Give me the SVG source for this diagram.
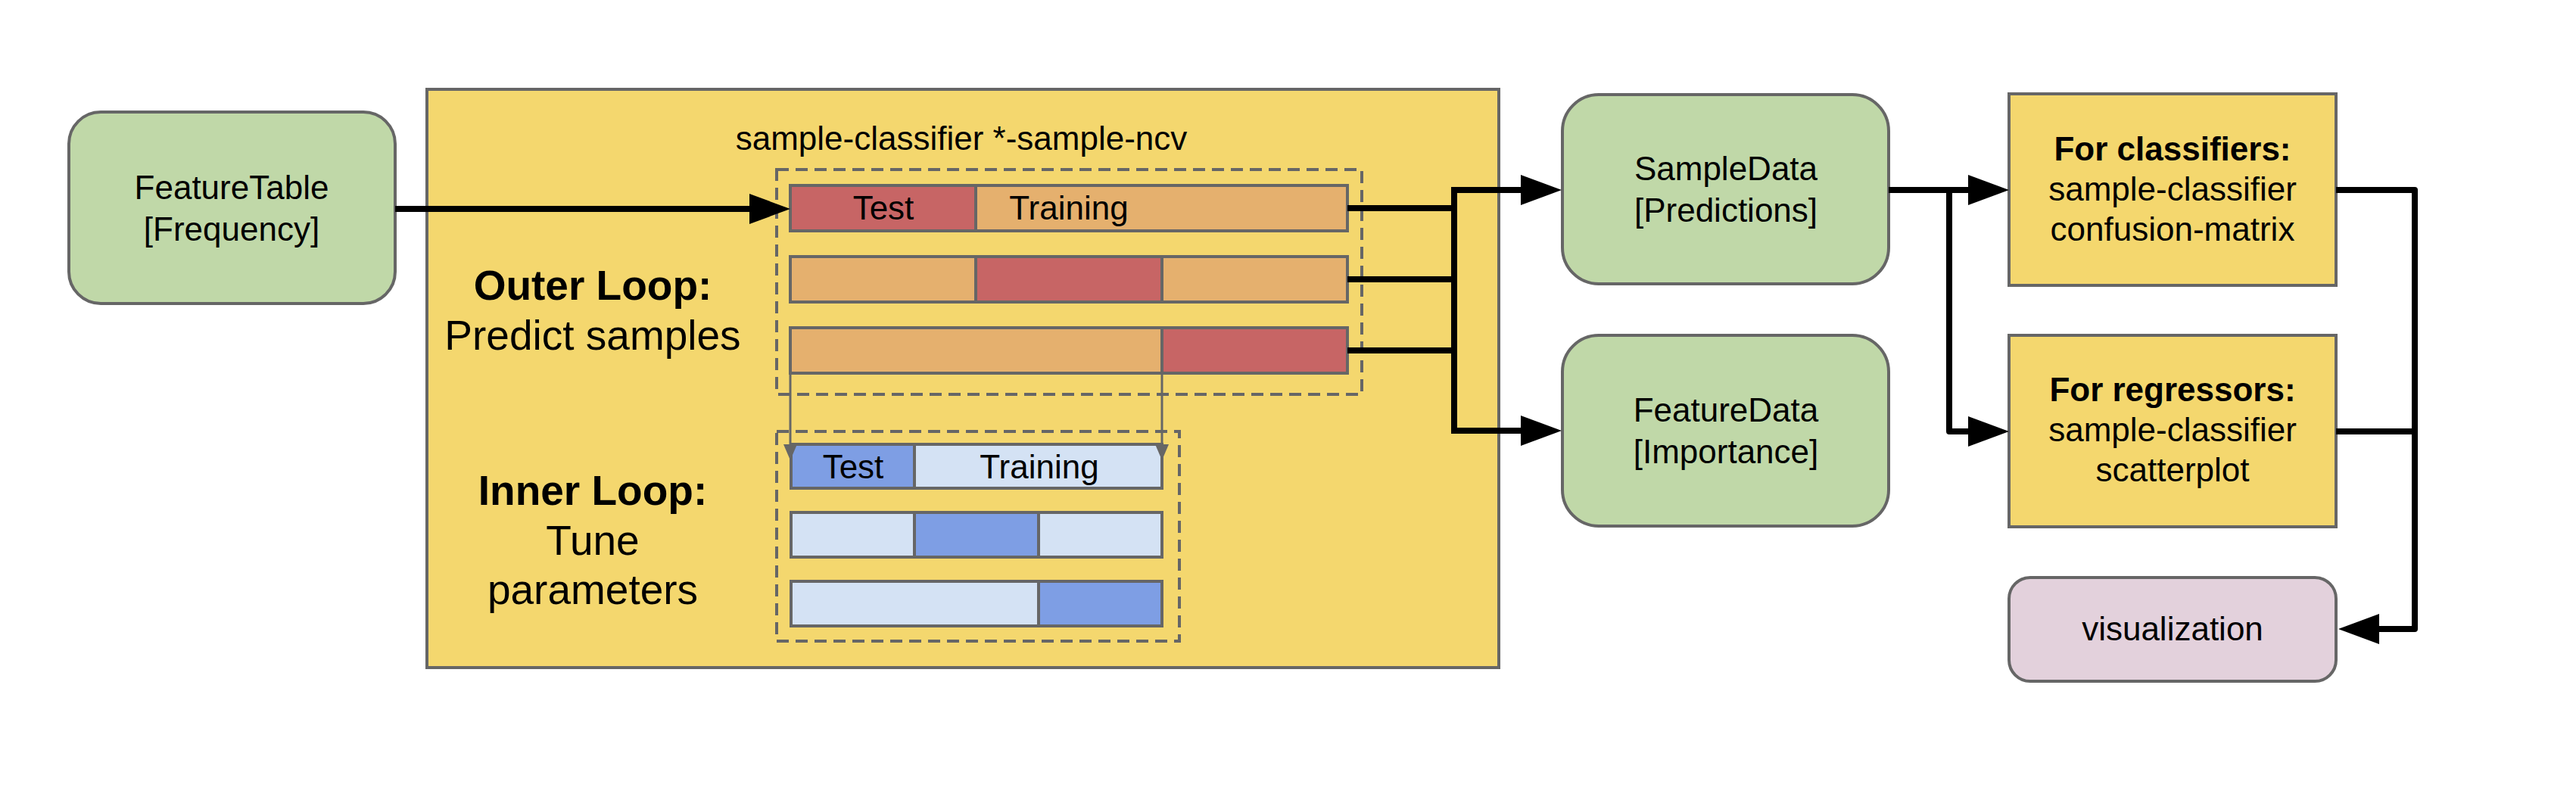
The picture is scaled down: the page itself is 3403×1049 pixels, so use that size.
<svg xmlns="http://www.w3.org/2000/svg" width="3403" height="1049" viewBox="0 0 3403 1049">
<defs>
<style>
text{font-family:"Liberation Sans",Arial,sans-serif;fill:#000;text-anchor:middle}
.t{font-size:44px}
.b{font-size:44px;font-weight:bold}
.big{font-size:55px}
.bigb{font-size:55px;font-weight:bold}
.green{fill:#c0d8a8;stroke:#666;stroke-width:4}
.yel{fill:#f4d76e;stroke:#666;stroke-width:4}
.pink{fill:#e3d1dc;stroke:#666;stroke-width:4}
.dash{fill:none;stroke:#666;stroke-width:4;stroke-dasharray:16 9}
.bar{stroke:#666;stroke-width:4}
.red{fill:#c76565}
.org{fill:#e5b06e}
.blu{fill:#7e9ee4}
.lbl{fill:#d4e2f4}
.con{fill:none;stroke:#000;stroke-width:8;stroke-linejoin:round}
.thin{fill:none;stroke:#666;stroke-width:3}
</style>
<marker id="ah" markerUnits="userSpaceOnUse" markerWidth="56" markerHeight="40" viewBox="0 0 56 40" refX="2" refY="20" orient="auto">
<path d="M0,0 L54,20 L0,40 Z" fill="#000"/>
</marker>
<marker id="sh" markerUnits="userSpaceOnUse" markerWidth="24" markerHeight="20" viewBox="0 0 24 20" refX="1" refY="10" orient="auto">
<path d="M0,1 L21,10 L0,19 Z" fill="#666"/>
</marker>
</defs>

<g id="ncv">
<rect x="564" y="118" width="1416" height="764" class="yel" stroke-width="3"/>
<text class="t" x="1270" y="198">sample-classifier *-sample-ncv</text>
<text class="bigb" x="783" y="396">Outer Loop:</text>
<text class="big" x="783" y="462">Predict samples</text>
<text class="bigb" x="783" y="667">Inner Loop:</text>
<text class="big" x="783" y="733">Tune</text>
<text class="big" x="783" y="798">parameters</text>
</g>

<g id="outer-folds">
<rect x="1026" y="224" width="773" height="297" class="dash"/>
<rect x="1044" y="245" width="245" height="60" class="bar red"/>
<rect x="1289" y="245" width="491" height="60" class="bar org"/>
<text class="t" x="1167" y="290">Test</text>
<text class="t" x="1412" y="290">Training</text>
<rect x="1044" y="339" width="245" height="60" class="bar org"/>
<rect x="1289" y="339" width="246" height="60" class="bar red"/>
<rect x="1535" y="339" width="245" height="60" class="bar org"/>
<rect x="1044" y="433" width="491" height="60" class="bar org"/>
<rect x="1535" y="433" width="245" height="60" class="bar red"/>
</g>

<g id="inner-folds">
<rect x="1026" y="570" width="532" height="277" class="dash"/>
<rect x="1045" y="587" width="163" height="58" class="bar blu"/>
<rect x="1208" y="587" width="327" height="58" class="bar lbl"/>
<text class="t" x="1127" y="632">Test</text>
<text class="t" x="1373" y="632">Training</text>
<rect x="1045" y="677" width="163" height="59" class="bar lbl"/>
<rect x="1208" y="677" width="164" height="59" class="bar blu"/>
<rect x="1372" y="677" width="163" height="59" class="bar lbl"/>
<rect x="1045" y="768" width="327" height="59" class="bar lbl"/>
<rect x="1372" y="768" width="163" height="59" class="bar blu"/>
</g>

<g id="featuretable">
<rect x="91" y="148" width="431" height="253" rx="42" class="green"/>
<text class="t" x="306" y="263">FeatureTable</text>
<text class="t" x="306" y="318">[Frequency]</text>
</g>

<g id="sampledata">
<rect x="2064" y="125" width="431" height="250" rx="48" class="green"/>
<text class="t" x="2280" y="238">SampleData</text>
<text class="t" x="2280" y="293">[Predictions]</text>
</g>

<g id="featuredata">
<rect x="2064" y="443" width="431" height="252" rx="48" class="green"/>
<text class="t" x="2280" y="557">FeatureData</text>
<text class="t" x="2280" y="612">[Importance]</text>
</g>

<g id="confusion">
<rect x="2654" y="124" width="432" height="253" class="yel" stroke-width="3"/>
<text class="b" x="2870" y="212">For classifiers:</text>
<text class="t" x="2870" y="265">sample-classifier</text>
<text class="t" x="2870" y="318">confusion-matrix</text>
</g>

<g id="scatter">
<rect x="2654" y="443" width="432" height="253" class="yel" stroke-width="3"/>
<text class="b" x="2870" y="530">For regressors:</text>
<text class="t" x="2870" y="583">sample-classifier</text>
<text class="t" x="2870" y="636">scatterplot</text>
</g>

<g id="visualization">
<rect x="2654" y="763" width="432" height="137" rx="28" class="pink"/>
<text class="t" x="2870" y="846">visualization</text>
</g>

<g id="connectors">
<path class="con" d="M522,276 H992" marker-end="url(#ah)"/>
<path class="con" d="M1780,275 H1921"/>
<path class="con" d="M1780,369 H1921"/>
<path class="con" d="M1780,463 H1921"/>
<path class="con" d="M1921,251 V569"/>
<path class="con" d="M1917,251 H2011" marker-end="url(#ah)"/>
<path class="con" d="M1917,569 H2011" marker-end="url(#ah)"/>
<path class="con" d="M2495,251 H2602" marker-end="url(#ah)"/>
<path class="con" d="M2575,251 V570 H2602" marker-end="url(#ah)"/>
<path class="con" d="M3086,251 H3190 V831 H3141" marker-end="url(#ah)"/>
<path class="con" d="M3086,570 H3190"/>
<path class="thin" d="M1044,493 V588" marker-end="url(#sh)"/>
<path class="thin" d="M1535,493 V588" marker-end="url(#sh)"/>
</g>
</svg>
